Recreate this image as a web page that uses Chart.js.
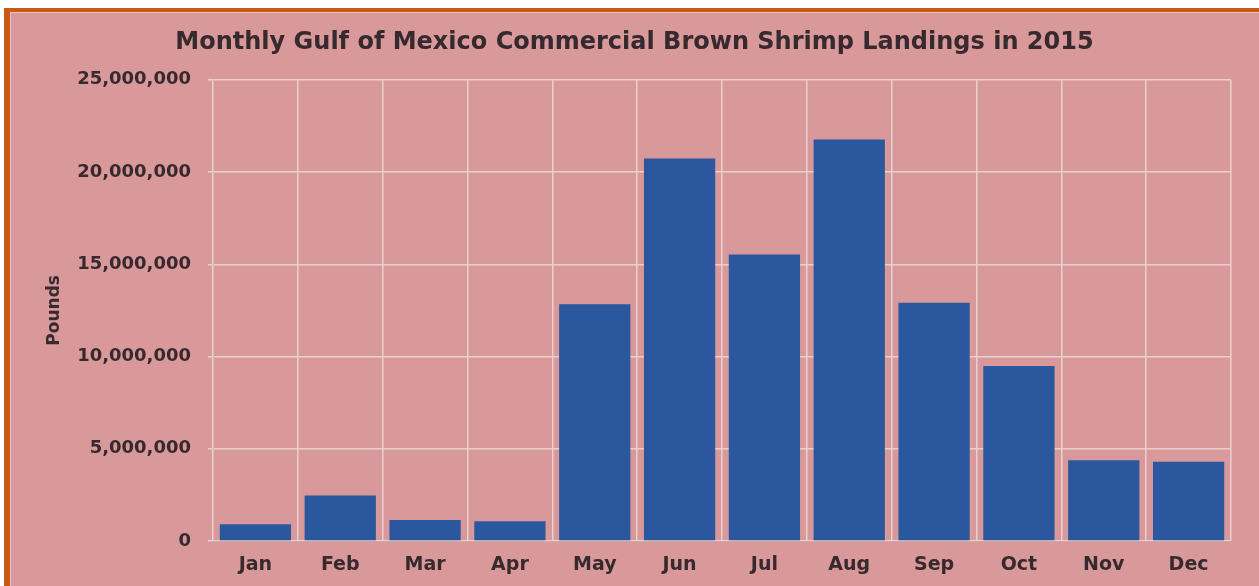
<!DOCTYPE html>
<html>
<head>
<meta charset="utf-8">
<script src="https://cdn.jsdelivr.net/npm/chart.js@4"></script>
<style>
  html, body { margin: 0; padding: 0; background: #ffffff; overflow: hidden; }
  #frame {
    position: absolute; left: 4px; top: 8px; width: 1250px; height: 600px;
    background: #d9989a;
    border-left: 6px solid #c95a16; border-top: 4px solid #c95a16; border-right: 5px solid #c95a16;
    box-shadow: inset 1px 1px 0 #e8c2c2;
  }
  #wrap { position: absolute; left: 0; top: 0; width: 1259px; height: 586px; }
</style>
</head>
<body>
<div id="frame"></div>
<div id="wrap"><canvas id="chart"></canvas></div>
<script>
// data (pounds)
var months = ['Jan', 'Feb', 'Mar', 'Apr', 'May', 'Jun', 'Jul', 'Aug', 'Sep', 'Oct', 'Nov', 'Dec'];
var landings = [910000, 2460000, 1140000, 1070000, 12840000, 20730000, 15530000, 21770000, 12920000, 9490000, 4380000, 4300000];
var yTicks = [0, 5000000, 10000000, 15000000, 20000000, 25000000];

var textColor = '#372a2e';
var gridColor = '#ead0d0';
var fam = 'DejaVu Sans, Verdana, sans-serif';

var ctx = document.getElementById('chart');
new Chart(ctx, {
  type: 'bar',
  data: {
    labels: months,
    datasets: [{
      label: 'Pounds',
      data: landings,
      backgroundColor: '#2a579e',
      borderWidth: 0,
      barPercentage: 0.84,
      categoryPercentage: 1
    }]
  },
  options: {
    responsive: true,
    maintainAspectRatio: false,
    animation: false,
    // left padding chosen so the title centres where the original does
    layout: { padding: { left: 38, right: 28, top: 0, bottom: 0 } },
    plugins: {
      legend: { display: false },
      tooltip: { enabled: false },
      title: {
        display: true,
        text: 'Monthly Gulf of Mexico Commercial Brown Shrimp Landings in 2015',
        color: textColor,
        font: { family: fam, size: 24, weight: 'bold' },
        padding: { top: 28, bottom: 23 }
      }
    },
    scales: {
      x: {
        offset: true,
        grid: { offset: true, color: gridColor, lineWidth: 1.5, drawTicks: false },
        border: { color: '#caa8a8' },
        ticks: {
          color: textColor,
          padding: 13,
          font: { family: fam, size: 19, weight: 'bold' }
        },
        afterFit: function (s) { s.height = 45; }
      },
      y: {
        min: 0,
        max: 25000000,
        afterBuildTicks: function (s) { s.ticks = yTicks.map(function (v) { return { value: v }; }); },
        grid: { color: gridColor, lineWidth: 1.5, drawTicks: true, tickLength: 5 },
        border: { color: '#d8b8b8' },
        ticks: {
          color: textColor,
          padding: 17,
          font: { family: fam, size: 18, weight: 'bold' },
          callback: function (v) { return v.toLocaleString('en-US'); }
        },
        title: {
          display: true,
          text: 'Pounds',
          color: textColor,
          font: { family: fam, size: 17, weight: 'bold' },
          padding: { top: 6 }
        },
        afterFit: function (s) { s.width = 175; }
      }
    }
  }
});
</script>
</body>
</html>
